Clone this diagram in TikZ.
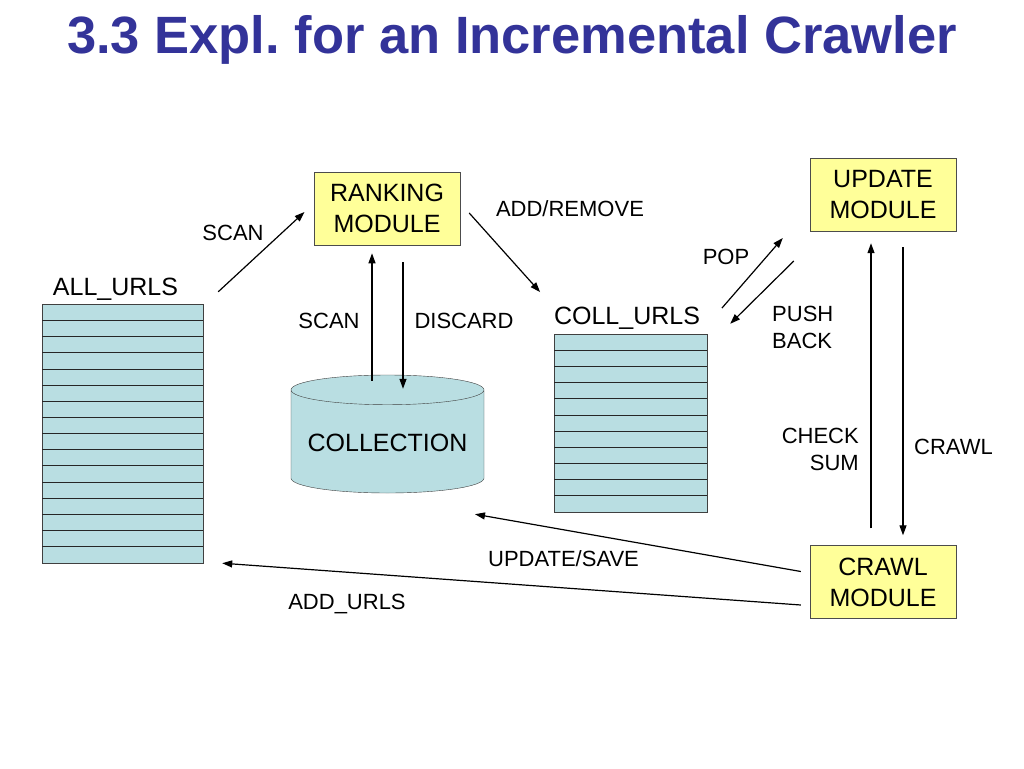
\documentclass[tikz,border=0pt]{standalone}
\usepackage{fontspec}
\setmainfont{Liberation Sans}
\usetikzlibrary{arrows.meta,calc,shapes.geometric}

\definecolor{titleblue}{RGB}{51,51,153}
\definecolor{modyellow}{RGB}{255,255,153}
\definecolor{urlblue}{RGB}{185,222,226}

\begin{document}
\begin{tikzpicture}[x=1pt,y=-1pt,
  module/.style={rectangle, draw=black!70, fill=modyellow, minimum width=146pt, minimum height=73pt, inner sep=0pt, align=center, font=\fontsize{25}{31}\selectfont},
  stack/.style={rectangle, draw=black!75, fill=urlblue, inner sep=0pt},
  lbl/.style={inner sep=0pt, font=\fontsize{22}{27}\selectfont},
  big/.style={inner sep=0pt, font=\fontsize{25}{31}\selectfont},
  flow/.style={-{Triangle[length=10pt,width=7pt]}, line width=1.2pt}
]
\useasboundingbox (0,0) rectangle (1024,768);

% Title
\node[anchor=base, inner sep=0pt, text=titleblue, font=\fontsize{52.5}{58}\selectfont\bfseries] (title) at (512,54) {3.3 Expl.\ for an Incremental Crawler};

% URL lists
\node[stack, minimum width=160.4pt, minimum height=258.4pt] (allurls) at (122.5,433.5) {};
\foreach \i in {1,...,15}
  \draw[black!85] ($(allurls.north west)+(0,\i*16.15)$) -- ($(allurls.north east)+(0,\i*16.15)$);
\node[big, anchor=base] (allurlsname) at (115.5,295) {ALL\_URLS};

\node[stack, minimum width=152.4pt, minimum height=177.4pt] (collurls) at (630.5,423) {};
\foreach \i in {1,...,10}
  \draw[black!85] ($(collurls.north west)+(0,\i*16.13)$) -- ($(collurls.north east)+(0,\i*16.13)$);
\node[big, anchor=base] (collurlsname) at (627,324) {COLL\_URLS};

% Collection
\node[cylinder, shape border rotate=90, aspect=0.186, anchor=shape center, draw=black!75, fill=urlblue, minimum width=193pt, minimum height=118pt, inner sep=0pt, text height=19pt, text depth=0pt, font=\fontsize{25}{31}\selectfont] (collection) at (387.5,434) {COLLECTION};

% Modules
\node[module] (ranking) at (387,208.6) {RANKING\\MODULE};
\node[module] (update) at (883,194.5) {UPDATE\\MODULE};
\node[module] (crawl) at (883,582) {CRAWL\\MODULE};

% Arrows
\draw[flow] ($(allurls.north east)+(15.3,-12.3)$) -- ($(ranking.west)+(-9.3,3.4)$);
\draw[flow] ($(collection.north)+(-15.5,6)$) -- ($(ranking.south)+(-15,8)$);
\draw[flow] ($(ranking.south)+(16,17)$) -- ($(collection.north)+(15.5,14)$);
\draw[flow] ($(ranking.east)+(9,4.4)$) -- ($(collurls.north west)+(-14,-42)$);
\draw[flow] ($(collurls.north east)+(15,-26)$) -- ($(update.west)+(-27,43.5)$);
\draw[flow] ($(update.west)+(-16,66.5)$) -- ($(collurls.north east)+(23.3,-10.3)$);
\draw[flow] ($(crawl.north)+(-12,-17)$) -- ($(update.south)+(-12,12)$);
\draw[flow] ($(update.south)+(20,16)$) -- ($(crawl.north)+(20,-10)$);
\draw[flow] ($(crawl.west)+(-9,-10.5)$) -- ($(collection.south)+(87.5,21)$);
\draw[flow] ($(crawl.west)+(-9,23)$) -- ($(allurls.south east)+(19.3,0.3)$);

% Arrow labels
\node[lbl, anchor=base] (scanall) at (233,240) {SCAN};
\node[lbl, anchor=base] (addremove) at (570,216) {ADD/REMOVE};
\node[lbl, anchor=base] (scancoll) at (329,328) {SCAN};
\node[lbl, anchor=base] (discard) at (464,328) {DISCARD};
\node[lbl, anchor=base] (pop) at (726,264) {POP};
\node[lbl, anchor=west, align=left] (pushback) at (772,327) {PUSH\\BACK};
\node[lbl, anchor=east, align=right] (checksum) at (859,449.5) {CHECK\\SUM};
\node[lbl, anchor=base west] (crawllbl) at (914,454) {CRAWL};
\node[lbl, anchor=base] (updatesave) at (563.5,566.7) {UPDATE/SAVE};
\node[lbl, anchor=base] (addurls) at (347,609) {ADD\_URLS};
\end{tikzpicture}
\end{document}
